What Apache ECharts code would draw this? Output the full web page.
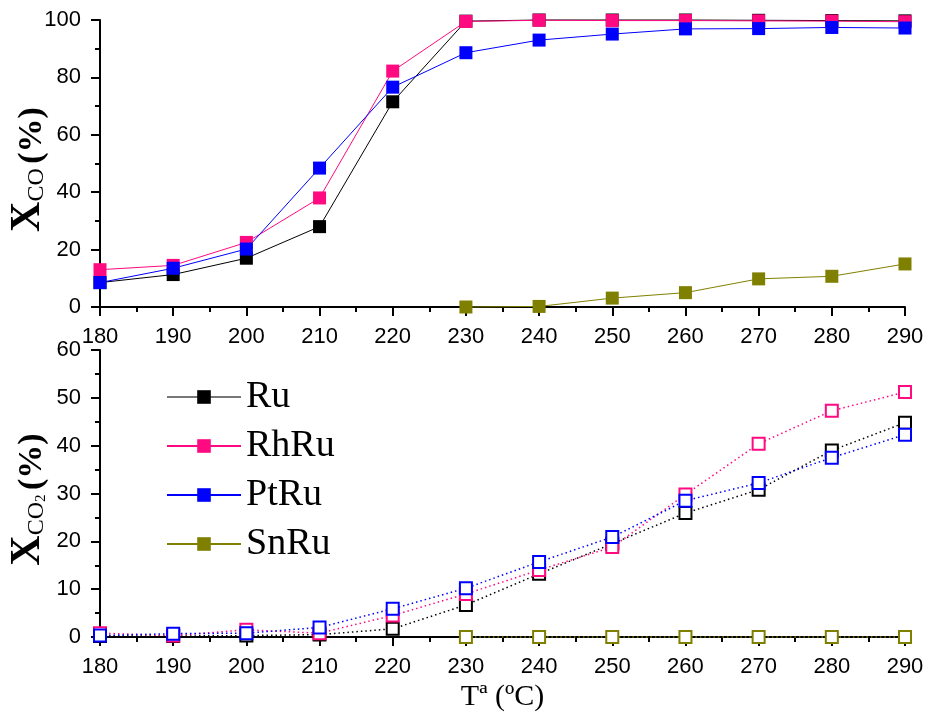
<!DOCTYPE html>
<html>
<head>
<meta charset="utf-8">
<script src="https://cdn.jsdelivr.net/npm/echarts@6/dist/echarts.min.js"></script>
<style>
  html, body { margin: 0; padding: 0; background: #fff; }
  #chart { width: 928px; height: 722px; }
</style>
</head>
<body>
<div id="chart"></div>
<script>
// Reaction temperature (ºC)
const temperatures = [180, 190, 200, 210, 220, 230, 240, 250, 260, 270, 280, 290];

// CO conversion (%)
const coRu   = [8.5, 11.3, 17.0, 28.0, 71.5, 99.6, 100, 100, 100, 99.9, 99.8, 99.7];
const coRhRu = [13.0, 14.5, 22.5, 38.0, 82.2, 99.5, 99.9, 99.8, 99.8, 99.7, 99.6, 99.4];
const coPtRu = [8.5, 13.5, 20.2, 48.4, 76.6, 88.6, 93.0, 95.1, 96.9, 97.0, 97.4, 97.2];
const coSnRu = [null, null, null, null, null, 0.0, 0.2, 3.1, 5.0, 9.8, 10.7, 15.0];

// CO2 conversion (%)
const co2Ru   = [0.2, 0.2, 0.3, 0.5, 1.7, 6.7, 13.2, 19.5, 25.9, 30.8, 39.0, 44.8];
const co2RhRu = [0.8, 0.3, 1.5, 0.8, 4.5, 9.0, 14.0, 18.8, 29.8, 40.4, 47.3, 51.2];
const co2PtRu = [0.3, 0.7, 0.8, 2.0, 5.9, 10.2, 15.7, 20.9, 28.5, 32.2, 37.5, 42.3];
const co2SnRu = [null, null, null, null, null, 0, 0, 0, 0, 0, 0, 0];

const catalysts = ['Ru', 'RhRu', 'PtRu', 'SnRu'];
const colors = { Ru: '#000000', RhRu: '#ff0a80', PtRu: '#0000ff', SnRu: '#808000' };
const coData  = { Ru: coRu, RhRu: coRhRu, PtRu: coPtRu, SnRu: coSnRu };
const co2Data = { Ru: co2Ru, RhRu: co2RhRu, PtRu: co2PtRu, SnRu: co2SnRu };

const pairs = arr => temperatures.map((t, i) => [t, arr[i]]);

const tickFont = { fontFamily: '"Liberation Sans", Arial, sans-serif', fontSize: 22, color: '#000' };
const serif = '"Liberation Serif", "Times New Roman", serif';

function xAxisFor(gridIndex, withName) {
  return {
    type: 'value', gridIndex, min: 180, max: 290, interval: 10,
    axisLine: { onZero: false, lineStyle: { color: '#000', width: 2 } },
    axisTick: { inside: false, length: 9, lineStyle: { color: '#000', width: 2 } },
    minorTick: { show: true, splitNumber: 2, length: 5, lineStyle: { color: '#000', width: 2 } },
    splitLine: { show: false },
    axisLabel: Object.assign({ margin: 19 }, tickFont),
    name: withName ? 'Tª (ºC)' : '',
    nameLocation: 'middle', nameGap: 45,
    nameTextStyle: { fontFamily: serif, fontSize: 30, color: '#000' }
  };
}

function yAxisFor(gridIndex, max, interval, name, rich) {
  return {
    type: 'value', gridIndex, min: 0, max, interval,
    axisLine: { show: true, lineStyle: { color: '#000', width: 2 } },
    axisTick: { show: true, inside: false, length: 9, lineStyle: { color: '#000', width: 2 } },
    minorTick: { show: true, splitNumber: 2, length: 5, lineStyle: { color: '#000', width: 2 } },
    splitLine: { show: false },
    axisLabel: Object.assign({ margin: 19 }, tickFont),
    name, nameLocation: 'middle', nameGap: 51, nameMoveOverlap: false,
    nameTextStyle: { fontFamily: serif, color: '#000', padding: [0, 12, 0, 0], rich }
  };
}

const titleRich = {
  x:   { fontFamily: serif, fontSize: 42, fontWeight: 'bold', lineHeight: 44, verticalAlign: 'bottom', color: '#000' },
  s:   { fontFamily: serif, fontSize: 24, lineHeight: 32, verticalAlign: 'bottom', color: '#000' },
  sub: { fontFamily: serif, fontSize: 15, lineHeight: 13, verticalAlign: 'bottom', color: '#000' },
  sp:  { fontFamily: serif, fontSize: 18, lineHeight: 44, verticalAlign: 'bottom', color: '#000' },
  p:   { fontFamily: serif, fontSize: 34, fontWeight: 'bold', lineHeight: 44, verticalAlign: 'bottom', color: '#000' }
};

const series = [];
catalysts.forEach(name => {
  series.push({
    name, type: 'line', xAxisIndex: 0, yAxisIndex: 0,
    data: pairs(coData[name]),
    symbol: 'rect', symbolSize: 13,
    itemStyle: { color: colors[name] },
    lineStyle: { color: colors[name], width: 1 },
    connectNulls: false, clip: false, z: 2
  });
});
catalysts.forEach(name => {
  series.push({
    name, type: 'line', xAxisIndex: 1, yAxisIndex: 1,
    data: pairs(co2Data[name]),
    symbol: 'emptyRect', symbolSize: 12, showAllSymbol: true,
    itemStyle: { color: colors[name], borderColor: colors[name], borderWidth: 1.5 },
    lineStyle: { color: colors[name], width: 1.5, type: [1.5, 3] },
    connectNulls: false, clip: false, z: 2
  });
});

const chart = echarts.init(document.getElementById('chart'), null, { renderer: 'canvas' });
chart.setOption({
  animation: false,
  backgroundColor: '#fff',
  grid: [
    { left: 100, right: 23, top: 20, height: 287, containLabel: false, outerBoundsMode: 'none' },
    { left: 100, right: 23, top: 350, height: 287, containLabel: false, outerBoundsMode: 'none' }
  ],
  xAxis: [xAxisFor(0, false), xAxisFor(1, true)],
  yAxis: [
    yAxisFor(0, 100, 20, '{x|X}{s|CO}{sp| }{p|(%)}', titleRich),
    yAxisFor(1, 60, 10, '{x|X}{s|CO}{sub|2}{sp| }{p|(%)}', titleRich)
  ],
  legend: {
    orient: 'vertical', left: 161, top: 373,
    itemWidth: 74, itemHeight: 17, itemGap: 11,
    textStyle: { fontFamily: serif, fontSize: 38, color: '#000', padding: [0, 0, 0, 0] },
    data: [
      { name: 'Ru', lineStyle: { color: '#777', width: 2 } },
      { name: 'RhRu' }, { name: 'PtRu' }, { name: 'SnRu' }
    ],
    selectedMode: false
  },
  series
});
</script>
</body>
</html>
